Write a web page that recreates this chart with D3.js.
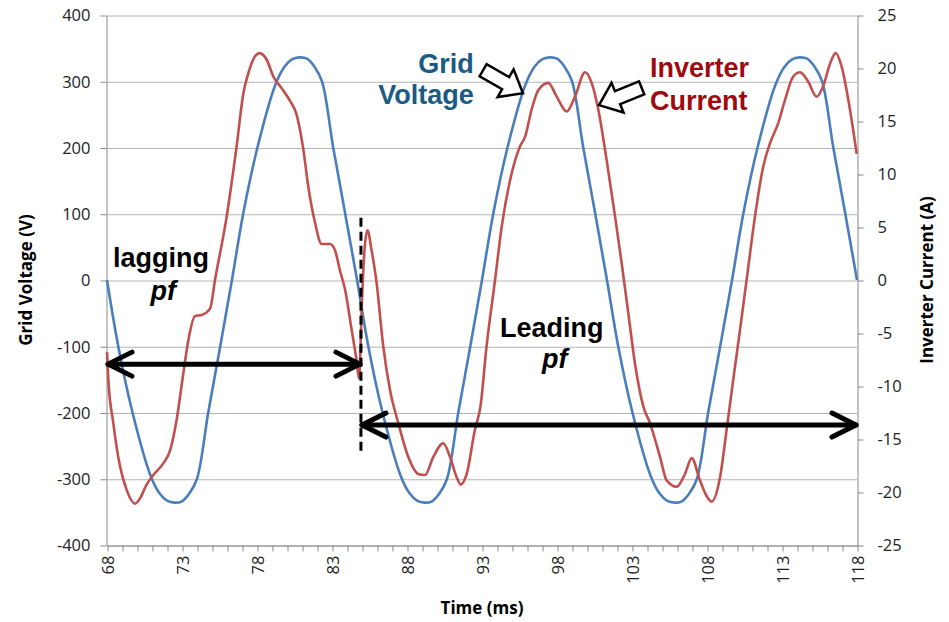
<!DOCTYPE html>
<html>
<head>
<meta charset="utf-8">
<script src="https://cdn.jsdelivr.net/npm/d3@7/dist/d3.min.js"></script>
<style>
  body { margin: 0; background: #fff; }
  svg { display: block; }
</style>
</head>
<body>
<svg id="chart" width="949" height="622"></svg>
<script>
// grid voltage (V)
var gridTime = [68, 68.75, 69.7, 70.9, 71.5, 72, 72.5, 73, 73.5, 74, 74.75, 75.55,
    76.33, 77.08, 78.03, 79.23, 79.83, 80.33, 80.83, 81.33, 81.83, 82.33, 83.08, 83.88,
    84.67, 85.42, 86.37, 87.57, 88.17, 88.67, 89.17, 89.67, 90.17, 90.67, 91.42, 92.22,
    93, 93.75, 94.7, 95.9, 96.5, 97, 97.5, 98, 98.5, 99, 99.75, 100.55,
    101.33, 102.08, 103.03, 104.23, 104.83, 105.33, 105.83, 106.33, 106.83, 107.33, 108.08, 108.88,
    109.67, 110.42, 111.37, 112.57, 113.17, 113.67, 114.17, 114.67, 115.17, 115.67, 116.42, 117.22, 118]
var gridVoltage = [0, -100, -200, -295, -322, -333, -336, -334, -322, -300, -200, -100,
    0, 100, 200, 295, 322, 333, 336, 334, 322, 300, 200, 100,
    0, -100, -200, -295, -322, -333, -336, -334, -322, -300, -200, -100,
    0, 100, 200, 295, 322, 333, 336, 334, 322, 300, 200, 100,
    0, -100, -200, -295, -322, -333, -336, -334, -322, -300, -200, -100,
    0, 100, 200, 295, 322, 333, 336, 334, 322, 300, 200, 100, 0]

// inverter current (A)
var invTime = [68, 68.09, 68.42, 68.75, 69.31, 69.87, 70.2, 70.64, 71.09, 71.75, 72.2, 72.64,
    73.09, 73.42, 73.87, 74.31, 74.87, 75.2, 75.98, 76.64, 77.09, 77.42, 77.87, 78.15,
    78.64, 79.09, 79.64, 80.2, 80.64, 81.09, 81.42, 81.87, 82.31, 82.87, 83.2, 83.53,
    83.87, 84.31, 84.64, 84.8, 85, 85.15, 85.36, 85.64, 85.95, 86.42, 86.87, 87.42,
    88.09, 88.75, 89.2, 89.75, 90.42, 90.87, 91.31, 91.58, 91.98, 92.53, 92.9, 93.3,
    93.87, 94.31, 94.87, 95.53, 95.87, 96.31, 96.75, 97.42, 97.98, 98.64, 99.2, 99.87,
    100.31, 100.75, 101.31, 101.87, 102.31, 102.75, 103.2, 103.75, 104.2, 104.87, 105.31, 105.98,
    106.53, 106.98, 107.53, 107.98, 108.31, 108.87, 109.31, 109.75, 110.2, 110.64, 111.2, 111.75,
    112.2, 112.75, 113.2, 113.75, 114.2, 114.75, 115.31, 115.75, 116.2, 116.58, 116.98, 117.42, 117.98]
var invCurrent = [-6.8, -9.4, -13.5, -16.7, -19.8, -21.1, -20.6, -19.3, -18.4, -17.3, -16.1, -13.2,
    -8.8, -5.7, -3.4, -3.3, -2.7, 0, 6.0, 12.6, 17.6, 19.5, 21.1, 21.4,
    20.8, 19.2, 18.1, 16.9, 15.6, 12.3, 8.8, 5.4, 3.4, 3.4, 2.8, 0.9,
    -0.9, -4.7, -7.6, -9.3, -1.9, 2.5, 4.7, 2.8, 0, -6.3, -10.4, -13.5,
    -16.7, -18.3, -18.4, -16.7, -15.4, -16.7, -18.6, -19.3, -18.3, -14.1, -11.9, -6.3,
    0, 5.0, 9.4, 12.6, 13.5, 16.1, 17.9, 18.6, 17.3, 15.9, 17.3, 19.6,
    18.6, 16.1, 11.3, 6.0, 1.6, -3.1, -7.9, -11.9, -13.5, -16.7, -18.9, -19.5,
    -18.3, -16.8, -18.9, -20.4, -20.9, -18.6, -14.1, -9.4, -4.7, 0, 6.0, 10.7,
    12.9, 14.8, 17.0, 19.2, 19.6, 18.7, 17.3, 18.3, 20.4, 21.4, 20.1, 17.0, 11.9]

var timeTicks = [68, 73, 78, 83, 88, 93, 98, 103, 108, 113, 118]
var voltTicks = [-400, -300, -200, -100, 0, 100, 200, 300, 400]
var currTicks = [-25, -20, -15, -10, -5, 0, 5, 10, 15, 20, 25]

var svg = d3.select("#chart")
var plotLeft = 107, plotRight = 857, plotTop = 15, plotBottom = 545

var x = d3.scaleLinear().domain([68, 118]).range([plotLeft, plotRight])
var yL = d3.scaleLinear().domain([-400, 400]).range([plotBottom, plotTop])
var yR = d3.scaleLinear().domain([-25, 25]).range([plotBottom, plotTop])

var tickFont = "'Open Sans', sans-serif"
var plain = function (d) { return String(d) }  // keep ASCII hyphen for negatives

// horizontal gridlines
svg.append("g")
    .attr("transform", "translate(" + plotLeft + ",0.5)")
    .call(d3.axisLeft(yL).tickValues(voltTicks).tickSize(-(plotRight - plotLeft)).tickFormat(""))
    .call(g => g.select(".domain").remove())
    .selectAll("line").attr("stroke", "#b4b4b4")

// left axis
var gL = svg.append("g")
    .attr("transform", "translate(" + (plotLeft - 0.5) + ",0.5)")
    .call(d3.axisLeft(yL).tickValues(voltTicks).tickFormat(plain).tickSize(6).tickPadding(10).tickSizeOuter(0))
gL.select(".domain").attr("stroke", "#888")
gL.selectAll("line").attr("stroke", "#888")
gL.selectAll("text").attr("font-family", tickFont).attr("font-size", 16.5).attr("fill", "#222")

// right axis
var gR = svg.append("g")
    .attr("transform", "translate(" + (plotRight + 0.5) + ",0.5)")
    .call(d3.axisRight(yR).tickValues(currTicks).tickFormat(plain).tickSize(6).tickPadding(14).tickSizeOuter(0))
gR.select(".domain").attr("stroke", "#888")
gR.selectAll("line").attr("stroke", "#888")
gR.selectAll("text").attr("font-family", tickFont).attr("font-size", 16.5).attr("fill", "#222")

// bottom axis: minor ticks every ms, labels every 5 ms
var gB = svg.append("g")
    .attr("transform", "translate(0.5," + (plotBottom + 0.5) + ")")
    .call(d3.axisBottom(x).tickValues(d3.range(68, 119)).tickSize(6).tickFormat("").tickSizeOuter(0))
gB.select(".domain").attr("stroke", "#888")
gB.selectAll("line").attr("stroke", "#888")

svg.append("g")
    .attr("transform", "translate(0.5," + (plotBottom + 0.5) + ")")
    .call(d3.axisBottom(x).tickValues(timeTicks).tickSize(0).tickFormat(plain))
    .call(g => g.select(".domain").remove())
    .selectAll("text")
    .attr("font-family", tickFont).attr("font-size", 16.5).attr("fill", "#222")
    .attr("transform", "rotate(-90)")
    .attr("text-anchor", "end")
    .attr("x", -10).attr("y", 0).attr("dy", "0.36em")

// axis titles
svg.append("text")
    .attr("transform", "translate(32," + (plotTop + plotBottom) / 2 + ") rotate(-90)")
    .attr("text-anchor", "middle")
    .attr("font-family", tickFont).attr("font-weight", 700).attr("font-size", 17)
    .text("Grid Voltage (V)")
svg.append("text")
    .attr("transform", "translate(933," + (plotTop + plotBottom) / 2 + ") rotate(-90)")
    .attr("text-anchor", "middle")
    .attr("font-family", tickFont).attr("font-weight", 700).attr("font-size", 17)
    .text("Inverter Current (A)")
svg.append("text")
    .attr("x", (plotLeft + plotRight) / 2).attr("y", 614)
    .attr("text-anchor", "middle")
    .attr("font-family", tickFont).attr("font-weight", 700).attr("font-size", 17)
    .text("Time (ms)")

// series
var voltLine = d3.line()
    .x(function (d, i) { return x(gridTime[i]) })
    .y(function (d) { return yL(d) })
    .curve(d3.curveCatmullRom.alpha(0.5))
var currLine = d3.line()
    .x(function (d, i) { return x(invTime[i]) })
    .y(function (d) { return yR(d) })
    .curve(d3.curveMonotoneX)

svg.append("path").datum(gridVoltage)
    .attr("d", voltLine).attr("fill", "none")
    .attr("stroke", "#4a7ebb").attr("stroke-width", 2.6)
svg.append("path").datum(invCurrent)
    .attr("d", currLine).attr("fill", "none")
    .attr("stroke", "#c0504d").attr("stroke-width", 2.6)

// annotations
var annFont = "'Liberation Sans', Arial, sans-serif"

svg.append("line")
    .attr("x1", x(84.93)).attr("x2", x(84.93))
    .attr("y1", yL(94)).attr("y2", yL(-262))
    .attr("stroke", "#000").attr("stroke-width", 3).attr("stroke-dasharray", "9,5")

function doubleArrow(t0, t1, v) {
    var g = svg.append("g").attr("stroke", "#000").attr("stroke-width", 5)
        .attr("fill", "none").attr("stroke-linecap", "round").attr("stroke-linejoin", "round")
    var xa = x(t0) + 1, xb = x(t1) - 1, yy = yL(v)
    g.append("line").attr("x1", xa).attr("x2", xb).attr("y1", yy).attr("y2", yy)
    g.append("polyline").attr("points", [[xa + 24, yy - 12], [xa, yy], [xa + 24, yy + 12]].join(" "))
    g.append("polyline").attr("points", [[xb - 24, yy - 12], [xb, yy], [xb - 24, yy + 12]].join(" "))
}
doubleArrow(68, 84.93, -127)
doubleArrow(84.93, 118, -219)

function hollowArrow(t, v, angle) {
    var pts = [[0, 0], [-20, -16], [-20, -7], [-46, -7], [-46, 7], [-20, 7], [-20, 16]]
    svg.append("polygon")
        .attr("points", pts.join(" "))
        .attr("transform", "translate(" + x(t) + "," + yL(v) + ") rotate(" + angle + ")")
        .attr("fill", "#fff").attr("stroke", "#000").attr("stroke-width", 2.5)
}
hollowArrow(95.73, 282, 30)
hollowArrow(100.8, 264, 158)

function label(txt, t, v, anchor, color, italic) {
    svg.append("text")
        .attr("x", x(t)).attr("y", yL(v))
        .attr("text-anchor", anchor)
        .attr("font-family", annFont).attr("font-weight", 700).attr("font-size", 27)
        .attr("font-style", italic ? "italic" : "normal")
        .attr("fill", color)
        .text(txt)
}
label("Grid", 92.45, 312, "end", "#1b5a84")
label("Voltage", 92.45, 265, "end", "#1b5a84")
label("Inverter", 104.2, 307, "start", "#9e0b0f")
label("Current", 104.2, 257, "start", "#9e0b0f")
label("lagging", 68.4, 20, "start", "#000")
label("pf", 71.75, -30, "middle", "#000", true)
label("Leading", 97.65, -86, "middle", "#000")
label("pf", 97.85, -133, "middle", "#000", true)
</script>
</body>
</html>
